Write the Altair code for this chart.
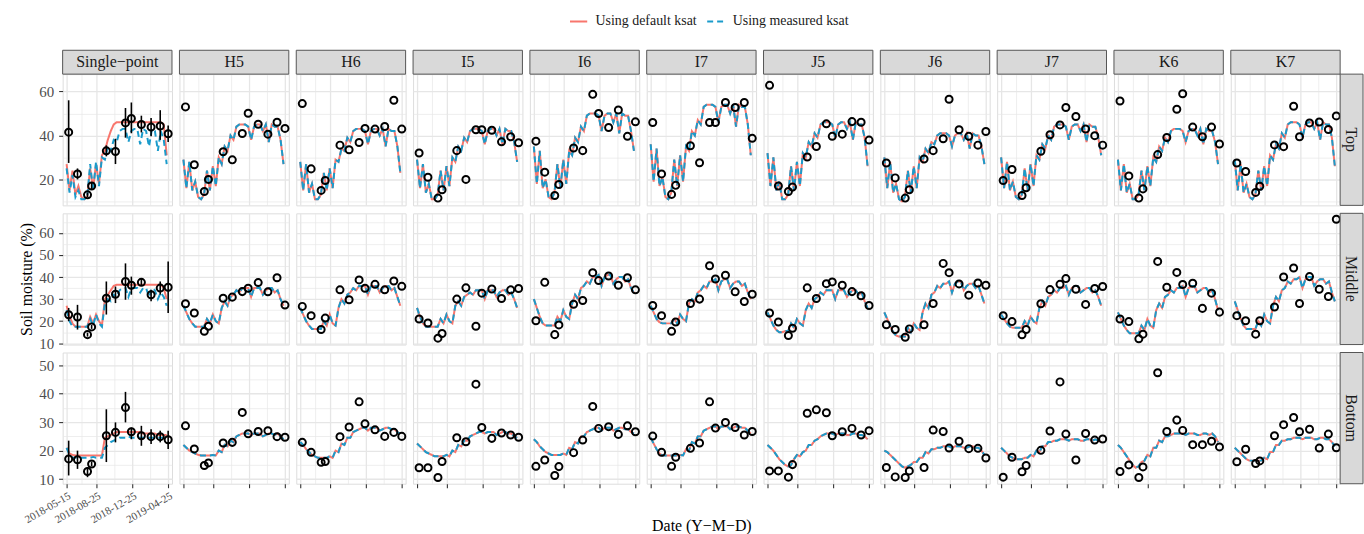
import altair as alt
import pandas as pd

FONT = "Liberation Serif"
SITES = ["Single−point", "H5", "H6", "I5", "I6", "I7", "J5", "J6", "J7", "K6", "K7"]
ROWS = ["Top", "Middle", "Bottom"]
SERIES = ["Using default ksat", "Using measured ksat"]

# observation campaign dates (points)
OBS_DATES = ["2018-05-22", "2018-06-21", "2018-07-25", "2018-08-08", "2018-09-27", "2018-10-28",
             "2018-12-01", "2018-12-21", "2019-01-24", "2019-02-26", "2019-03-29", "2019-04-25"]
# simulated series are read every 10 days starting here
LINE_START = "2018-05-15"

# ---------------- simulated soil moisture, default ksat ----------------
TOP_DEFAULT = {
    "Single−point": [27, 15, 24, 13, 17, 12, 11, 12, 25, 16, 27, 18, 31, 33, 38, 42, 45, 46, 46, 46, 46, 46, 46, 46, 46, 46, 46, 46, 46, 46, 46, 46, 46, 45, 31],
    "H5": [29, 16, 28, 15, 19, 12, 11, 13, 24, 15, 26, 17, 30, 27, 35, 33, 40, 38, 44, 45, 45, 45, 44, 38, 44, 45, 45, 42, 45, 37, 45, 44, 44, 38, 27],
    "H6": [28, 15, 27, 14, 18, 11, 11, 13, 23, 15, 25, 16, 29, 28, 34, 33, 39, 37, 42, 43, 43, 43, 42, 36, 42, 43, 43, 40, 43, 35, 43, 42, 42, 35, 23],
    "I5": [29, 16, 27, 14, 18, 11, 11, 13, 24, 15, 26, 17, 30, 28, 35, 33, 39, 37, 42, 43, 43, 43, 42, 36, 42, 43, 43, 40, 43, 36, 43, 42, 42, 37, 28],
    "I6": [35, 18, 33, 16, 20, 12, 11, 14, 27, 16, 29, 18, 33, 31, 39, 37, 44, 42, 49, 50, 50, 50, 49, 42, 49, 50, 50, 46, 50, 41, 50, 49, 49, 42, 33],
    "I7": [36, 19, 34, 17, 21, 12, 11, 14, 29, 17, 31, 19, 35, 33, 42, 40, 47, 45, 53, 54, 54, 54, 53, 46, 53, 54, 54, 50, 54, 44, 54, 53, 53, 45, 31],
    "J5": [32, 17, 30, 15, 19, 11, 11, 13, 26, 15, 28, 17, 32, 30, 37, 35, 41, 39, 45, 46, 46, 46, 45, 39, 45, 46, 46, 43, 46, 38, 46, 45, 45, 39, 26],
    "J6": [30, 16, 28, 14, 18, 11, 10, 12, 24, 14, 26, 16, 30, 28, 34, 32, 37, 36, 40, 41, 41, 41, 40, 35, 40, 41, 41, 38, 41, 34, 41, 40, 40, 35, 27],
    "J7": [30, 16, 28, 15, 19, 12, 11, 13, 25, 15, 27, 17, 31, 29, 36, 34, 40, 38, 44, 45, 45, 45, 44, 38, 44, 45, 45, 42, 45, 37, 45, 44, 44, 39, 31],
    "K6": [29, 15, 27, 14, 18, 11, 11, 13, 24, 15, 26, 17, 30, 28, 35, 33, 39, 37, 42, 43, 43, 43, 42, 37, 42, 43, 43, 40, 43, 36, 43, 42, 42, 37, 27],
    "K7": [29, 15, 27, 14, 18, 12, 11, 13, 24, 15, 26, 17, 31, 29, 36, 34, 41, 39, 45, 46, 46, 46, 45, 39, 45, 46, 46, 43, 46, 38, 46, 45, 45, 39, 26],
}
MID_DEFAULT = {
    "Single−point": [27, 22, 19, 17.5, 17.5, 17.5, 17.5, 17.5, 22, 19, 23, 20, 18, 30, 32, 34, 36, 36.5, 36.5, 36.5, 36.5, 36.5, 36.5, 36.5, 36.5, 36.5, 36.5, 36.5, 36.5, 36.5, 36.5, 36.5, 36.5, 35, 30],
    "H5": [27, 24, 21, 19, 17.5, 17.5, 17.5, 17.5, 21, 19, 23, 20, 19, 26, 29, 27, 31, 32, 34, 33, 35, 35, 35, 31, 35, 35, 35, 32, 34, 35, 35, 33, 34, 30, 27],
    "H6": [26, 23, 20, 18, 16.5, 16.5, 16.5, 16.5, 20, 18, 23, 19, 18, 26, 30, 28, 32, 33, 35, 34, 36, 36, 36, 32, 36, 36, 36, 33, 35, 36, 36, 34, 35, 31, 27],
    "I5": [26, 22, 19, 17.5, 17.5, 17.5, 17.5, 17.5, 21, 19, 23, 20, 19, 27, 29, 27, 31, 32, 33, 32, 34, 34, 34, 30, 34, 34, 34, 31, 33, 34, 34, 32, 33, 30, 26],
    "I6": [30, 26, 22, 19, 18, 18, 18, 18, 22, 20, 25, 22, 21, 28, 32, 30, 35, 36, 38, 37, 40, 40, 41, 36, 40, 41, 41, 37, 39, 40, 40, 38, 39, 35, 33],
    "I7": [27, 24, 21, 19.5, 19, 19, 19, 19, 21, 19, 23, 21, 20, 28, 30, 29, 33, 34, 36, 35, 38, 38, 39, 34, 38, 39, 39, 35, 37, 38, 38, 36, 37, 33, 30],
    "J5": [24, 21, 18, 16, 15, 15, 15.5, 15.5, 19, 17, 21, 19, 18, 25, 28, 26, 30, 31, 33, 32, 34, 34, 34, 30, 34, 34, 34, 31, 33, 34, 34, 32, 33, 29, 26],
    "J6": [24, 21, 18, 15, 13.5, 13, 13, 13, 17, 15, 19, 17, 16, 24, 28, 26, 32, 33, 36, 35, 37, 37, 38, 33, 37, 38, 38, 34, 36, 37, 37, 35, 36, 32, 28],
    "J7": [23, 21, 19, 17.5, 17, 17, 17, 17, 20, 18, 22, 20, 19, 26, 29, 27, 31, 32, 34, 33, 35, 35, 36, 32, 35, 36, 36, 33, 34, 35, 35, 33, 34, 31, 27],
    "K6": [24, 21, 18, 16, 14.5, 14.5, 14.5, 14.5, 18, 16, 21, 18, 17, 25, 28, 26, 31, 32, 34, 33, 35, 35, 36, 31, 35, 36, 36, 33, 34, 35, 35, 33, 34, 30, 25],
    "K7": [29, 25, 21, 18, 16.5, 16.5, 16.5, 16.5, 20, 18, 23, 20, 19, 27, 31, 29, 34, 35, 38, 37, 39, 39, 40, 35, 39, 40, 40, 36, 38, 39, 39, 37, 38, 33, 29],
}
BOT_DEFAULT = {
    "Single−point": [21, 19, 18.5, 18.3, 18.3, 18.3, 18.3, 18.3, 18.3, 18.3, 18.3, 18.3, 18.3, 24.5, 25, 25.5, 26, 26.5, 26.5, 26.5, 26.5, 26.5, 26.5, 26.5, 26.5, 26.5, 26, 26, 26, 26, 26, 25.5, 25.5, 25.5, 25.5],
    "H5": [22, 21, 20, 19.5, 19, 18.5, 18.3, 18.3, 18.3, 18.3, 18.5, 18.3, 20, 19.5, 22, 21.5, 23.5, 23, 25, 25.5, 26, 26, 26, 25.5, 26, 26, 26, 25, 25.5, 26, 26, 25.5, 26, 25, 24],
    "H6": [23, 22, 20.5, 19.5, 18.5, 18, 17.5, 17.5, 17.5, 17.5, 18, 17.5, 20, 19.5, 22.5, 22, 24.5, 24.5, 26.5, 27, 27.5, 28, 28, 27, 28, 28, 28, 27, 27.5, 28, 28, 27.5, 27.5, 26.5, 26],
    "I5": [22.5, 21.5, 20.5, 19.5, 19, 18.5, 18, 18, 18, 18, 18.5, 18, 20, 19.5, 22, 21.5, 23.5, 23.5, 25, 25.5, 26, 26.5, 26.5, 26, 26.5, 26.5, 26.5, 25.5, 26, 26.5, 26.5, 26, 26, 25, 24.5],
    "I6": [24, 23, 21.5, 20.5, 19.5, 19, 18.5, 18.5, 18.5, 18.5, 19, 18.5, 21, 20.5, 23, 22.5, 25, 25, 26.5, 27, 27.5, 28, 28, 27, 28, 28, 28, 27, 27.5, 28, 28, 27.5, 27.5, 26.5, 26],
    "I7": [24.5, 22.5, 20.5, 19, 18.3, 18.3, 18.3, 18.3, 18.3, 18.3, 18.5, 18.3, 20.5, 20, 23, 22.5, 25, 25, 27, 27.5, 28, 28.5, 28.5, 27.5, 28.5, 28.5, 28.5, 27.5, 28, 28.5, 28.5, 28, 28, 27, 26],
    "J5": [22, 21, 20, 18.5, 17, 16, 15, 14.5, 15, 17, 18.5, 18, 19.5, 20, 22, 22, 23.5, 24, 25, 25.5, 26, 26, 26, 25.5, 26, 26, 26, 25.5, 25.5, 26, 26, 25.5, 25.5, 25, 24],
    "J6": [20, 19.5, 18.5, 17.5, 16.5, 15.5, 14.5, 14, 14.5, 15, 16, 16, 17.5, 17.5, 19.5, 19, 20.5, 20.5, 21, 21, 21.5, 21.5, 21.5, 21, 21.5, 21.5, 21.5, 21, 21, 21.5, 21.5, 21, 21, 20, 18.5],
    "J7": [21, 20, 19, 18, 17.5, 17, 17, 17, 17.5, 17.5, 18.5, 18, 20, 19.5, 21.5, 21.5, 23, 23, 23.5, 23.5, 24, 24, 24, 23.5, 24, 24, 24, 23.5, 23.5, 24, 24, 23.5, 24, 23.5, 23],
    "K6": [22, 21, 19.5, 18, 16.5, 15, 14, 14.5, 16, 16.5, 18.5, 18, 21, 21, 23.5, 23, 25, 25, 25.5, 26, 26, 26, 26, 25.5, 26, 26, 26, 25.5, 25.5, 26, 26, 25.5, 26, 25, 23],
    "K7": [21, 20, 19, 18, 17, 16.5, 16.5, 16.5, 16.5, 16.5, 17.5, 17, 19.5, 19.5, 22, 22, 23.5, 23.5, 24, 24, 24.5, 24.5, 24.5, 24, 24.5, 24.5, 24.5, 24, 24, 24.5, 24.5, 24, 24, 23, 21.5],
}
# measured-ksat runs: only the single-point column departs visibly from the default run;
# in every other panel the two curves coincide (read as identical values)
SP_MEASURED = {
    "Top": [25, 14, 22, 12, 15, 11, 11, 12, 27, 15, 28, 17, 30, 29, 35, 33, 38, 37, 42, 43, 43, 37, 42, 43, 43, 36, 43, 42, 35, 43, 42, 33, 42, 38, 27],
    "Middle": [25, 20, 17.5, 17.5, 17.5, 17.5, 17.5, 17.5, 21, 18, 23, 19, 17.5, 28, 30, 29, 32, 31, 34, 35, 35, 31, 35, 35, 35, 33, 35, 35, 31, 35, 34, 30, 33, 31, 27],
    "Bottom": [21, 18.5, 17.5, 17.5, 17.5, 17.5, 17.5, 17.5, 17.5, 17.8, 17.5, 17.5, 17.5, 21, 22, 23, 23.5, 24, 24.5, 24.5, 24.5, 25, 24.5, 24.5, 24.5, 24.5, 24.5, 24.5, 24.5, 24.5, 24.5, 24.5, 24.5, 24.5, 24.5],
}

# ---------------- observed soil moisture ----------------
TOP_OBS = {
    "Single−point": [41.5, 22.5, 13, 17, 33, 32.7, 45.7, 47.7, 45, 43.8, 44.3, 40.8],
    "H5": [53, 26.7, 14.5, 20, 32.6, 28.9, 40.9, 50.1, 45.1, 40.6, 46, 43.2],
    "H6": [54.5, 24.8, 15, 19.5, 35.6, 33.5, 36.8, 43.2, 42.9, 44.1, 56, 42.9],
    "I5": [32, 21, 11.5, 15.3, 33.1, 20, 42.6, 42.6, 42.4, 37.1, 39.4, 36.7],
    "I6": [37.4, 23.3, 12.7, 17.7, 34.3, 33.1, 58.7, 50, 43.6, 51.6, 39.6, 46.2],
    "I7": [45.9, 22.5, 13.2, 17.3, 35.3, 27.6, 45.9, 45.9, 55, 52.7, 55, 38.7],
    "J5": [62.8, 17, 14.5, 16.5, 30.2, 35, 45.3, 39.6, 40.6, 46.3, 46, 37.9],
    "J6": [27.5, 20.7, 11.5, 15.3, 29.3, 33.1, 38.5, 56.5, 42.6, 39.6, 35.6, 41.8],
    "J7": [19.5, 24.5, 12.7, 16.2, 32.8, 40.3, 44.8, 52.7, 48.6, 42.9, 39.9, 35.6],
    "K6": [55.7, 21.6, 11.5, 15.7, 31.3, 39.1, 51.9, 59, 43.8, 39.4, 43.8, 36.1],
    "K7": [27.5, 23.6, 14.1, 16.9, 35.7, 34.9, 53.3, 39.4, 45.7, 46.1, 42.7, 48.9],
}
MID_OBS = {
    "Single−point": [22.9, 21.9, 13.9, 17.4, 30.4, 32.2, 38, 36.3, 37.6, 32, 35, 35.4],
    "H5": [27.9, 23.7, 15.4, 17.7, 30.4, 30.9, 33.4, 34.9, 37.5, 33.3, 39.7, 27.3],
    "H6": [26.7, 22.5, 16.2, 21.4, 34.2, 29.7, 38.7, 34.9, 36.7, 34.2, 38.2, 35.8],
    "I5": [21, 19.2, 12.3, 14.4, 30, 35.1, 17.7, 32.7, 34.6, 30.3, 34.2, 34.8],
    "I6": [20.2, 37.6, 13.9, 18.3, 27.7, 29.4, 42, 38.4, 40.5, 36.3, 39.7, 34.2],
    "I7": [27.1, 22.5, 15.4, 19.6, 28, 30, 45.1, 39.1, 40.8, 33.3, 28.9, 32.2],
    "J5": [23.7, 19.6, 13.5, 16.8, 35.1, 30.3, 37, 37.8, 36.3, 33.4, 31.5, 27.1],
    "J6": [18.4, 16.2, 12.7, 16.5, 18.4, 28, 46.2, 42, 36.9, 31.8, 37.3, 36.3],
    "J7": [22.5, 19.8, 13.8, 16.2, 27.9, 34.3, 36.7, 39.3, 34.5, 27.6, 34.8, 35.7],
    "K6": [21, 19.8, 12, 14.1, 47.1, 35.4, 42.1, 36.6, 37.2, 25.8, 32.7, 24.1],
    "K7": [22.5, 20.2, 14.1, 20.2, 26.4, 40, 44.1, 28, 40.2, 34.5, 31.2, 66.2],
}
BOT_OBS = {
    "Single−point": [17.1, 16.8, 12.7, 15.3, 25.2, 26.4, 35.1, 26.6, 25.2, 24.9, 24.9, 23.8],
    "H5": [28.7, 20.6, 14.8, 15.7, 22.7, 22.9, 33.4, 25.9, 26.7, 27, 24.9, 24.7],
    "H6": [22.9, 19.4, 15.9, 16.2, 24.9, 28.3, 37.1, 29.4, 27.3, 25, 26.4, 25],
    "I5": [14, 14, 10.6, 16.2, 24.5, 23.1, 43.3, 28.1, 24.3, 26.2, 25.5, 24.7],
    "I6": [14.5, 16.7, 11.3, 14.4, 19.3, 23.7, 35.5, 27.8, 28.4, 25.7, 28.7, 26.6],
    "I7": [25.1, 19.4, 14.5, 17.7, 20.8, 22.7, 37.1, 27.9, 29.9, 28.1, 25.5, 26.7],
    "J5": [12.9, 12.9, 10.7, 15.1, 33.1, 34.3, 33.3, 25.2, 26.6, 27.8, 25.5, 27],
    "J6": [14.1, 10.8, 10.6, 12.9, 14.1, 27.2, 26.7, 20.9, 23.3, 20.7, 20.8, 17.4],
    "J7": [10.7, 17.7, 12.6, 14.8, 20.1, 26.9, 44.1, 25.8, 16.7, 26, 23.7, 24.1],
    "K6": [12.7, 15, 10.6, 14.3, 47.3, 26.7, 30.7, 27.1, 22.1, 22.1, 23.3, 21.3],
    "K7": [16.1, 20.5, 15.5, 16.4, 25.2, 29.1, 31.6, 26.6, 27.5, 20.9, 25.8, 21],
}
# error bars of the single-point column (low / high)
SP_LO = {
    "Top": [27.5, 20, 12, 15.5, 30.5, 27, 39, 41, 41.4, 39.7, 38, 37],
    "Middle": [20, 16.2, 13, 16.5, 23, 28.2, 29.7, 32, 36, 29, 32, 23.7],
    "Bottom": [11.3, 13.6, 10.7, 14.5, 16, 22.9, 29.9, 24, 21.7, 22.3, 22.9, 20.6],
}
SP_HI = {
    "Top": [56, 25, 14, 18.5, 35.5, 38.5, 52.5, 55, 49, 48, 51.5, 44.5],
    "Middle": [26, 27.4, 14.8, 18.3, 38, 35.7, 46.2, 40.2, 39.5, 34.2, 38, 47],
    "Bottom": [23.5, 20, 14.2, 16.2, 34.5, 29.9, 40.6, 28.1, 28.7, 27.5, 27, 27],
}

DEFAULTS = {"Top": TOP_DEFAULT, "Middle": MID_DEFAULT, "Bottom": BOT_DEFAULT}
OBS = {"Top": TOP_OBS, "Middle": MID_OBS, "Bottom": BOT_OBS}

Y_DOMAIN = {"Top": [8.2, 67.9], "Middle": [9.4, 68.9], "Bottom": [8.4, 54.4]}
Y_VALUES = {"Top": [10, 20, 30, 40, 50, 60],
            "Middle": [10, 15, 20, 25, 30, 35, 40, 45, 50, 55, 60, 65],
            "Bottom": [10, 15, 20, 25, 30, 35, 40, 45, 50]}
Y_MAJOR = {"Top": 20, "Middle": 10, "Bottom": 10}

# ---------------- style ----------------
W, H = 110, 132
STRIP_H = 24
RSTRIP_W = 17
GRID = "#E6E6E6"
BORDER = "#555555"
TICK = "#333333"
RED = "#F8766D"
BLUE = "#1A9BCB"

x_major = [alt.DateTime(year=2018, month=5, date=15), alt.DateTime(year=2018, month=8, date=25),
           alt.DateTime(year=2018, month=12, date=25), alt.DateTime(year=2019, month=4, date=25)]
x_minor = [alt.DateTime(year=2018, month=7, date=5), alt.DateTime(year=2018, month=10, date=24),
           alt.DateTime(year=2019, month=2, date=23)]
X_MINOR = "date(datum.value) != 15 && date(datum.value) != 25"
x_scale = alt.Scale(domain=[alt.DateTime(year=2018, month=5, date=1, hours=12),
                            alt.DateTime(year=2019, month=5, date=8)])

color_scale = alt.Scale(domain=SERIES, range=[RED, BLUE])
dash_scale = alt.Scale(domain=SERIES, range=[[1, 0], [6, 4]])
legend = alt.Legend(title=None, orient="none", legendX=509, legendY=-63, direction="horizontal",
                    symbolType="stroke", symbolSize=300, symbolStrokeWidth=2,
                    labelFont=FONT, labelFontSize=14, labelColor="#1A1A1A", labelOffset=7,
                    columnPadding=6)


def x_axis(ri, ci):
    bottom = ri == 2
    kw = dict(values=x_major + x_minor, grid=True, gridColor=GRID,
              gridWidth={"condition": {"test": X_MINOR, "value": 0.7}, "value": 1.3},
              domain=False, ticks=bottom, labels=bottom and ci == 0, title=None)
    if bottom:
        kw.update(tickSize=4, tickColor=TICK, tickWidth=1.1,
                  tickOpacity={"condition": {"test": X_MINOR, "value": 0}, "value": 1})
    if bottom and ci == 0:
        kw.update(labelExpr="date(datum.value) == 15 || date(datum.value) == 25 ? timeFormat(datum.value, '%Y-%m-%d') : ''",
                  labelAngle=-30, labelAlign="right", labelBaseline="top", labelFont=FONT,
                  labelFontSize=11, labelColor="#4D4D4D", labelPadding=2, labelOverlap=False,
                  labelFlush=False, labelBound=False)
    if bottom and ci == 5:
        kw.update(title="Date (Y−M−D)", titleFont=FONT, titleFontSize=16, titleFontWeight="normal",
                  titleColor="#000000", titlePadding=29)
    return alt.Axis(**kw)


def y_axis(ri, ci):
    row = ROWS[ri]
    minor = f"datum.value % {Y_MAJOR[row]} != 0"
    first = ci == 0
    kw = dict(values=Y_VALUES[row], grid=True, gridColor=GRID,
              gridWidth={"condition": {"test": minor, "value": 0.7}, "value": 1.3},
              domain=False, ticks=first, labels=first, title=None)
    if first:
        kw.update(tickSize=4, tickColor=TICK, tickWidth=1.1,
                  tickOpacity={"condition": {"test": minor, "value": 0}, "value": 1},
                  labelExpr=f"datum.value % {Y_MAJOR[row]} == 0 ? datum.label : ''",
                  labelFont=FONT, labelFontSize=15, labelColor="#4D4D4D", labelPadding=5)
    if first and row == "Middle":
        kw.update(title="Soil moisture (%)", titleFont=FONT, titleFontSize=16,
                  titleFontWeight="normal", titleColor="#000000", titlePadding=4)
    return alt.Axis(**kw)


def cell(ri, ci):
    row, site = ROWS[ri], SITES[ci]
    default = DEFAULTS[row][site]
    measured = SP_MEASURED[row] if ci == 0 else default
    dates = pd.date_range(LINE_START, periods=len(default), freq="10D")
    df_def = pd.DataFrame({"date": dates, "value": default, "series": SERIES[0]})
    df_mea = pd.DataFrame({"date": dates, "value": measured, "series": SERIES[1]})
    df_obs = pd.DataFrame({"date": pd.to_datetime(OBS_DATES), "value": OBS[row][site]})

    xs = alt.X("date:T", scale=x_scale, axis=x_axis(ri, ci))
    ysc = alt.Scale(domain=Y_DOMAIN[row], nice=False, zero=False)
    yax = y_axis(ri, ci)
    y = alt.Y("value:Q", scale=ysc, axis=yax)
    col = alt.Color("series:N", scale=color_scale, legend=legend)
    dash = alt.StrokeDash("series:N", scale=dash_scale, legend=legend)

    layers = [
        alt.Chart(df_def).mark_line(strokeWidth=2).encode(x=xs, y=y, color=col, strokeDash=dash),
        alt.Chart(df_mea).mark_line(strokeWidth=2).encode(x=xs, y=y, color=col, strokeDash=dash),
    ]
    if ci == 0:
        df_err = pd.DataFrame({"date": pd.to_datetime(OBS_DATES), "lo": SP_LO[row], "hi": SP_HI[row]})
        layers.append(alt.Chart(df_err).mark_rule(color="black", strokeWidth=1.6).encode(
            x=xs, y=alt.Y("lo:Q", scale=ysc, axis=yax), y2="hi:Q"))
    layers.append(alt.Chart(df_obs).mark_point(shape="circle", filled=False, color="black",
                                               strokeWidth=2, size=50, opacity=1).encode(x=xs, y=y))
    if ri == 0:
        sdf = pd.DataFrame({"label": [site]})
        layers.append(alt.Chart(sdf).mark_rect(fill="#D9D9D9", stroke=BORDER, strokeWidth=1).encode(
            x=alt.value(0), x2=alt.value(W), y=alt.value(-STRIP_H), y2=alt.value(0)))
        layers.append(alt.Chart(sdf).mark_text(font=FONT, fontSize=16, color="#1A1A1A",
                                               align="center", baseline="middle").encode(
            x=alt.value(W / 2), y=alt.value(-STRIP_H / 2), text="label:N"))
    if ci == len(SITES) - 1:
        rdf = pd.DataFrame({"label": [row]})
        layers.append(alt.Chart(rdf).mark_rect(fill="#D9D9D9", stroke=BORDER, strokeWidth=1).encode(
            x=alt.value(W), x2=alt.value(W + RSTRIP_W + 6), y=alt.value(0), y2=alt.value(H)))
        layers.append(alt.Chart(rdf).mark_text(font=FONT, fontSize=16, color="#1A1A1A", angle=90,
                                               align="center", baseline="middle").encode(
            x=alt.value(W + 11), y=alt.value(H / 2), text="label:N"))
    return alt.layer(*layers).properties(width=W, height=H)


cells = [cell(ri, ci) for ri in range(3) for ci in range(len(SITES))]

chart = alt.concat(*cells, columns=len(SITES), spacing={"row": 8, "column": 7.5}, bounds="flush").properties(
    padding={"left": 18, "top": 10, "right": 0, "bottom": 0}
).configure_view(stroke=BORDER, strokeWidth=1.3).configure(font=FONT)

chart.save("out.html", embed_options={"renderer": "svg", "actions": False})
